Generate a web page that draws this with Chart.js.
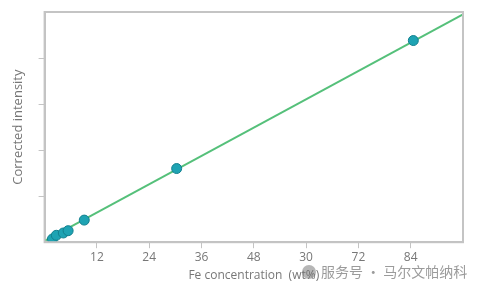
<!DOCTYPE html>
<html>
<head>
<meta charset="utf-8">
<script src="https://cdn.jsdelivr.net/npm/chart.js@4/dist/chart.umd.min.js"></script>
<style>
  html, body { margin: 0; padding: 0; background: #fff; }
  #wrap { width: 480px; height: 291px; position: relative; }
</style>
</head>
<body>
<div id="wrap"><canvas id="chart"></canvas></div>
<script>
// measured samples (Fe wt%, corrected intensity in arbitrary units)
const feConc = [1.8, 2.7, 4.3, 5.4, 9.1, 30.3, 84.6];
const intensity = [0.07, 0.15, 0.2, 0.25, 0.48, 1.6, 4.38];
// calibration line end points
const fitX = [0, 96];
const fitY = [0.03, 4.95];
// x tick labels as printed on the original (note the "30" at 60)
const xTickValues = [0, 12, 24, 36, 48, 60, 72, 84, 96];
const xTickLabels = ['', '12', '24', '36', '48', '30', '72', '84', ''];

const frame = {
  id: 'frame',
  afterDatasetsDraw(chart) {
    const { ctx, chartArea: a } = chart;
    ctx.save();
    ctx.strokeStyle = '#c4c4c4';
    ctx.lineWidth = 2;
    ctx.strokeRect(a.left, a.top, a.right - a.left, a.bottom - a.top);
    ctx.restore();
  },
  afterDraw(chart) {
    const { ctx } = chart;
    ctx.save();
    ctx.fillStyle = 'rgba(110,110,110,0.5)';
    ctx.beginPath();
    ctx.arc(309, 272, 7, 0, Math.PI * 2);
    ctx.fill();
    ctx.fillStyle = 'rgba(130,130,130,0.8)';
    ctx.font = '14px "Noto Sans CJK SC"';
    ctx.textBaseline = 'middle';
    ctx.fillText('服务号 · 马尔文帕纳科', 321, 272);
    ctx.restore();
  }
};

const hideEnds = (c) => (c.tick && (c.tick.value === 0 || c.tick.value === c.scale.max)) ? 'rgba(0,0,0,0)' : '#c4c4c4';

new Chart(document.getElementById('chart'), {
  type: 'scatter',
  data: {
    datasets: [
      {
        data: fitX.map((x, i) => ({ x, y: fitY[i] })),
        showLine: true,
        borderColor: '#55c07a',
        borderWidth: 2,
        pointRadius: 0,
        order: 2
      },
      {
        data: feConc.map((x, i) => ({ x, y: intensity[i] })),
        backgroundColor: '#1ea3b3',
        borderColor: '#13808e',
        borderWidth: 1,
        pointRadius: 5,
        order: 1
      }
    ]
  },
  options: {
    responsive: true,
    maintainAspectRatio: false,
    animation: false,
    layout: { padding: { top: 12, right: 17, left: 10, bottom: 8 } },
    plugins: { legend: { display: false }, tooltip: { enabled: false } },
    scales: {
      x: {
        type: 'linear',
        min: 0,
        max: 96,
        afterBuildTicks: s => { s.ticks = xTickValues.map(v => ({ value: v })); },
        ticks: {
          color: '#777',
          font: { family: '"Open Sans"', size: 12 },
          padding: 2,
          maxRotation: 0,
          autoSkip: false,
          callback: (v) => xTickLabels[xTickValues.indexOf(v)]
        },
        grid: { drawOnChartArea: false, tickLength: 6, color: hideEnds },
        border: { color: '#c4c4c4', width: 2 },
        title: {
          display: true,
          text: 'Fe concentration  (wt%)',
          color: '#777',
          font: { family: '"Open Sans"', size: 12 },
          padding: { top: 2, bottom: 0 }
        }
      },
      y: {
        min: 0,
        max: 5,
        ticks: { stepSize: 1, callback: () => '', padding: 0 },
        grid: { drawOnChartArea: false, tickLength: 6, color: hideEnds },
        border: { color: '#c4c4c4', width: 2 },
        title: {
          display: true,
          text: 'Corrected intensity',
          color: '#777',
          font: { family: '"Open Sans"', size: 13 },
          padding: { top: 0, bottom: 13 }
        }
      }
    }
  },
  plugins: [frame]
});
</script>
</body>
</html>
